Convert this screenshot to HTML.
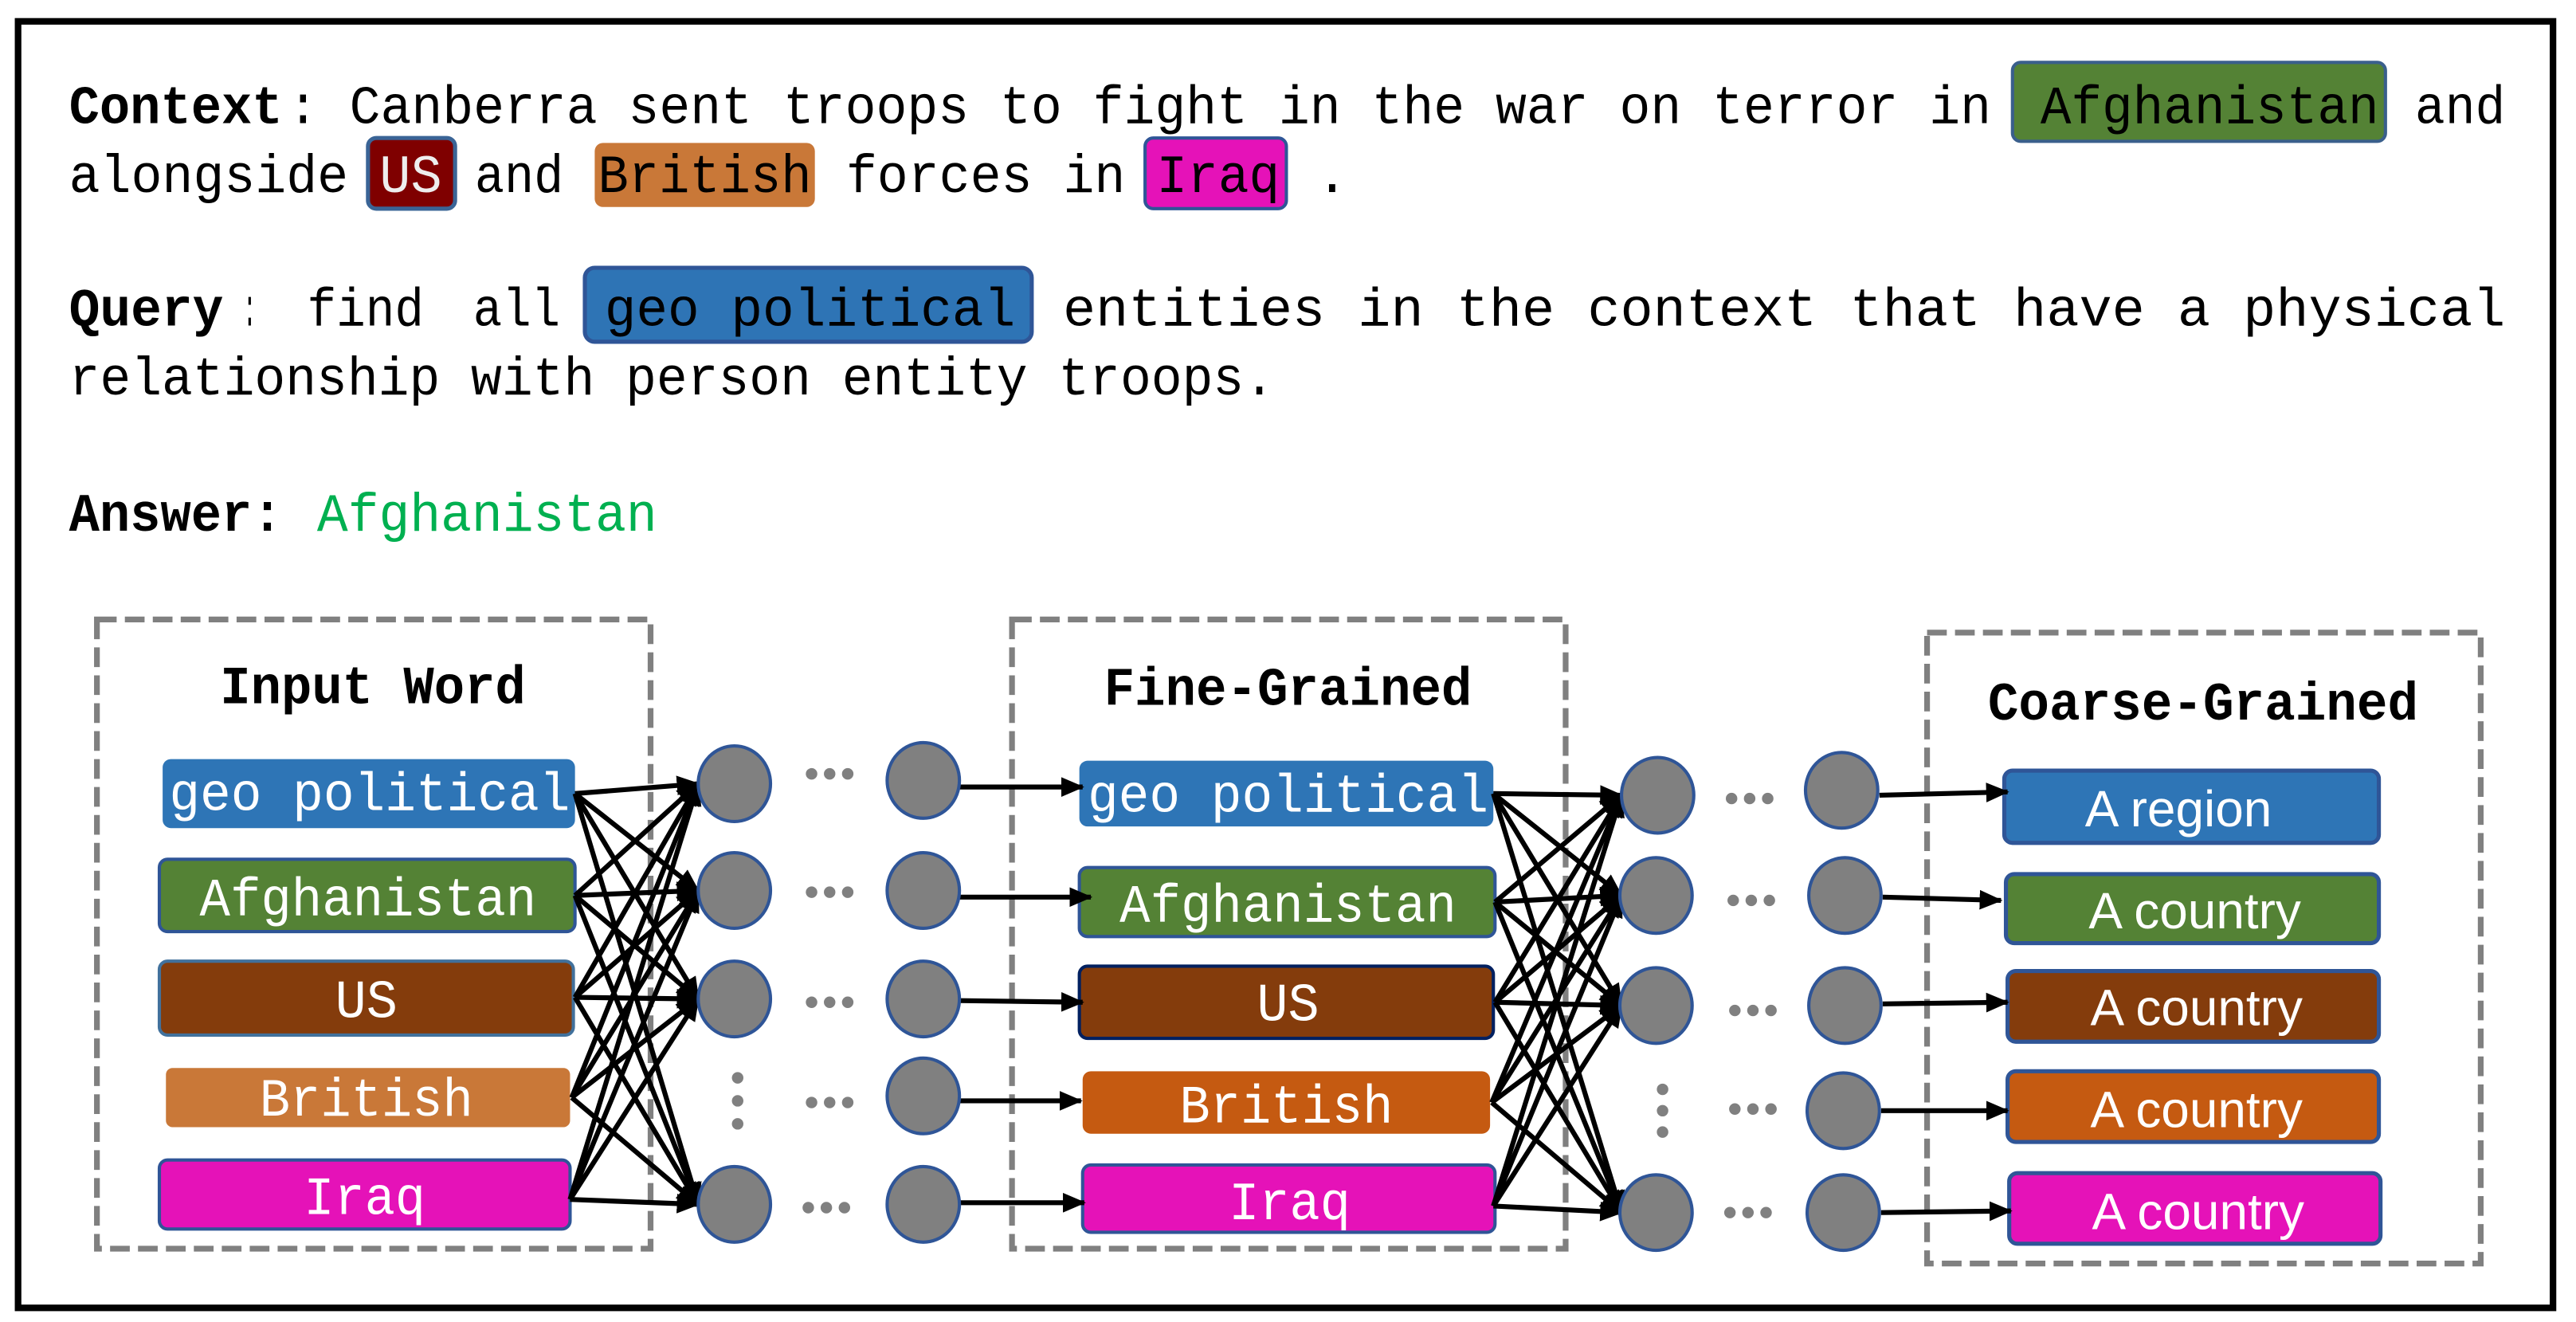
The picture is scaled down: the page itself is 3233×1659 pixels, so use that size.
<!DOCTYPE html>
<html><head><meta charset="utf-8"><style>
html,body{margin:0;padding:0;background:#fff;}
svg{display:block;}
.m{font-family:"Liberation Mono","DejaVu Sans Mono",monospace;font-size:33px;}
.b{font-weight:bold;}
.w{fill:#fff;}
.s{font-family:"Liberation Sans","DejaVu Sans",sans-serif;font-size:31px;fill:#fff;}
.fan line{stroke:#000;stroke-width:3;}
</style></head><body>
<svg width="3233" height="1659" viewBox="0 0 1568 804.6" preserveAspectRatio="none" xmlns="http://www.w3.org/2000/svg">
<defs>
<marker id="ah" markerUnits="userSpaceOnUse" markerWidth="14" markerHeight="12" refX="13" refY="6" orient="auto"><path d="M0,0 L14,6 L0,12 z" fill="#000"/></marker>
</defs>
<rect x="0" y="0" width="1568" height="805" fill="#fff"/>
<rect x="11" y="13" width="1543" height="783" fill="none" stroke="#000" stroke-width="4"/>

<!-- highlights -->
<rect x="1225" y="38" width="227" height="48" rx="5" fill="#548235" stroke="#3a5f8c" stroke-width="2"/>
<rect x="224" y="84" width="53" height="43" rx="5" fill="#7f0000" stroke="#3a6496" stroke-width="2.5"/>
<rect x="362" y="87" width="134" height="39" rx="5" fill="#c97838"/>
<rect x="697" y="84" width="86" height="43" rx="5" fill="#e512b8" stroke="#2f5597" stroke-width="2"/>
<rect x="356" y="163" width="272" height="45" rx="6" fill="#2e74b5" stroke="#2f5597" stroke-width="2.5"/>

<!-- text -->
<text class="m b" x="42" y="75" textLength="130" lengthAdjust="spacingAndGlyphs">Context</text>
<text class="m" x="175" y="75" textLength="1037" lengthAdjust="spacingAndGlyphs">: Canberra sent troops to fight in the war on terror in</text>
<text class="m" x="1242" y="75" textLength="206" lengthAdjust="spacingAndGlyphs">Afghanistan</text>
<text class="m" x="1470" y="75" textLength="55" lengthAdjust="spacingAndGlyphs">and</text>
<text class="m" x="42" y="117" textLength="170" lengthAdjust="spacingAndGlyphs">alongside</text>
<text class="m" x="231" y="117" textLength="38" lengthAdjust="spacingAndGlyphs" fill="#eee">US</text>
<text class="m" x="289" y="117" textLength="54" lengthAdjust="spacingAndGlyphs">and</text>
<text class="m" x="364" y="117" textLength="130" lengthAdjust="spacingAndGlyphs">British</text>
<text class="m" x="515" y="117" textLength="170" lengthAdjust="spacingAndGlyphs">forces in</text>
<text class="m" x="704" y="117" textLength="75" lengthAdjust="spacingAndGlyphs">Iraq</text>
<text class="m" x="801" y="117">.</text>

<text class="m b" x="42" y="198" textLength="94" lengthAdjust="spacingAndGlyphs">Query</text>
<text class="m" x="148" y="198" textLength="8" lengthAdjust="spacingAndGlyphs">:</text>
<text class="m" x="187" y="198" textLength="71" lengthAdjust="spacingAndGlyphs">find</text>
<text class="m" x="288" y="198" textLength="53" lengthAdjust="spacingAndGlyphs">all</text>
<text class="m" x="368" y="198" textLength="250" lengthAdjust="spacingAndGlyphs">geo political</text>
<text class="m" x="647" y="198" textLength="878" lengthAdjust="spacingAndGlyphs">entities in the context that have a physical</text>
<text class="m" x="42" y="240" textLength="734" lengthAdjust="spacingAndGlyphs">relationship with person entity troops.</text>

<text class="m b" x="42" y="323" textLength="130" lengthAdjust="spacingAndGlyphs">Answer:</text>
<text class="m" x="193" y="323" textLength="207" lengthAdjust="spacingAndGlyphs" fill="#00b050">Afghanistan</text>

<!-- dashed boxes -->
<g fill="none" stroke="#808080" stroke-width="3.5" stroke-dasharray="12,5">
<rect x="59" y="377" width="337" height="383"/>
<rect x="616" y="377" width="337" height="383"/>
<rect x="1173" y="385" width="337" height="384"/>
</g>
<text class="m b" x="227" y="428" text-anchor="middle" textLength="186" lengthAdjust="spacingAndGlyphs">Input Word</text>
<text class="m b" x="784" y="429" text-anchor="middle" textLength="224" lengthAdjust="spacingAndGlyphs">Fine-Grained</text>
<text class="m b" x="1341" y="438" text-anchor="middle" textLength="262" lengthAdjust="spacingAndGlyphs">Coarse-Grained</text>

<!-- col1 boxes -->
<rect x="99" y="462" width="251" height="42" rx="5" fill="#2e75b6"/>
<rect x="97" y="523" width="253" height="44" rx="5" fill="#548235" stroke="#2f5597" stroke-width="2"/>
<rect x="97" y="585" width="252" height="45" rx="5" fill="#843c0c" stroke="#41719c" stroke-width="2"/>
<rect x="101" y="650" width="246" height="36" rx="4" fill="#c97838"/>
<rect x="97" y="706" width="250" height="42" rx="5" fill="#e512b8" stroke="#2f5597" stroke-width="2"/>
<text class="m w" x="225" y="493" text-anchor="middle" textLength="244" lengthAdjust="spacingAndGlyphs">geo political</text>
<text class="m w" x="224" y="557" text-anchor="middle" textLength="205" lengthAdjust="spacingAndGlyphs">Afghanistan</text>
<text class="m w" x="223" y="619" text-anchor="middle" textLength="38" lengthAdjust="spacingAndGlyphs">US</text>
<text class="m w" x="223" y="679" text-anchor="middle" textLength="130" lengthAdjust="spacingAndGlyphs">British</text>
<text class="m w" x="222" y="739" text-anchor="middle" textLength="74" lengthAdjust="spacingAndGlyphs">Iraq</text>

<!-- col2 boxes -->
<rect x="657" y="463" width="252" height="40" rx="5" fill="#2e75b6"/>
<rect x="657" y="528" width="253" height="42" rx="5" fill="#548235" stroke="#2f5597" stroke-width="2"/>
<rect x="657" y="588" width="252" height="44" rx="5" fill="#843c0c" stroke="#002060" stroke-width="2"/>
<rect x="659" y="652" width="248" height="38" rx="5" fill="#c55a11"/>
<rect x="659" y="709" width="251" height="41" rx="5" fill="#e512b8" stroke="#2f5597" stroke-width="2"/>
<text class="m w" x="784" y="494" text-anchor="middle" textLength="244" lengthAdjust="spacingAndGlyphs">geo political</text>
<text class="m w" x="784" y="561" text-anchor="middle" textLength="205" lengthAdjust="spacingAndGlyphs">Afghanistan</text>
<text class="m w" x="784" y="621" text-anchor="middle" textLength="38" lengthAdjust="spacingAndGlyphs">US</text>
<text class="m w" x="783" y="683" text-anchor="middle" textLength="130" lengthAdjust="spacingAndGlyphs">British</text>
<text class="m w" x="785" y="742" text-anchor="middle" textLength="74" lengthAdjust="spacingAndGlyphs">Iraq</text>

<!-- col3 boxes -->
<g stroke="#2f5597" stroke-width="2.5">
<rect x="1220" y="469" width="228" height="44" rx="5" fill="#2e75b6"/>
<rect x="1221" y="532" width="227" height="42" rx="5" fill="#548235"/>
<rect x="1222" y="591" width="226" height="43" rx="5" fill="#843c0c"/>
<rect x="1222" y="652" width="226" height="43" rx="5" fill="#c55a11"/>
<rect x="1223" y="714" width="226" height="43" rx="5" fill="#e512b8"/>
</g>
<text class="s" x="1326" y="503" text-anchor="middle">A region</text>
<text class="s" x="1336" y="565" text-anchor="middle">A country</text>
<text class="s" x="1337" y="624" text-anchor="middle">A country</text>
<text class="s" x="1337" y="686" text-anchor="middle">A country</text>
<text class="s" x="1338" y="748" text-anchor="middle">A country</text>

<!-- fans -->
<g class="fan">
<line x1="350" y1="483" x2="425" y2="477" marker-end="url(#ah)"/>
<line x1="350" y1="483" x2="425" y2="542" marker-end="url(#ah)"/>
<line x1="350" y1="483" x2="425" y2="608" marker-end="url(#ah)"/>
<line x1="350" y1="483" x2="425" y2="733" marker-end="url(#ah)"/>
<line x1="350" y1="545" x2="425" y2="477" marker-end="url(#ah)"/>
<line x1="350" y1="545" x2="425" y2="542" marker-end="url(#ah)"/>
<line x1="350" y1="545" x2="425" y2="608" marker-end="url(#ah)"/>
<line x1="350" y1="545" x2="425" y2="733" marker-end="url(#ah)"/>
<line x1="350" y1="607" x2="425" y2="477" marker-end="url(#ah)"/>
<line x1="350" y1="607" x2="425" y2="542" marker-end="url(#ah)"/>
<line x1="350" y1="607" x2="425" y2="608" marker-end="url(#ah)"/>
<line x1="350" y1="607" x2="425" y2="733" marker-end="url(#ah)"/>
<line x1="348" y1="668" x2="425" y2="477" marker-end="url(#ah)"/>
<line x1="348" y1="668" x2="425" y2="542" marker-end="url(#ah)"/>
<line x1="348" y1="668" x2="425" y2="608" marker-end="url(#ah)"/>
<line x1="348" y1="668" x2="425" y2="733" marker-end="url(#ah)"/>
<line x1="347" y1="730" x2="425" y2="477" marker-end="url(#ah)"/>
<line x1="347" y1="730" x2="425" y2="542" marker-end="url(#ah)"/>
<line x1="347" y1="730" x2="425" y2="608" marker-end="url(#ah)"/>
<line x1="347" y1="730" x2="425" y2="733" marker-end="url(#ah)"/>

<line x1="909" y1="483" x2="987" y2="484" marker-end="url(#ah)"/>
<line x1="909" y1="483" x2="987" y2="545" marker-end="url(#ah)"/>
<line x1="909" y1="483" x2="987" y2="612" marker-end="url(#ah)"/>
<line x1="909" y1="483" x2="987" y2="738" marker-end="url(#ah)"/>
<line x1="910" y1="549" x2="987" y2="484" marker-end="url(#ah)"/>
<line x1="910" y1="549" x2="987" y2="545" marker-end="url(#ah)"/>
<line x1="910" y1="549" x2="987" y2="612" marker-end="url(#ah)"/>
<line x1="910" y1="549" x2="987" y2="738" marker-end="url(#ah)"/>
<line x1="910" y1="610" x2="987" y2="484" marker-end="url(#ah)"/>
<line x1="910" y1="610" x2="987" y2="545" marker-end="url(#ah)"/>
<line x1="910" y1="610" x2="987" y2="612" marker-end="url(#ah)"/>
<line x1="910" y1="610" x2="987" y2="738" marker-end="url(#ah)"/>
<line x1="908" y1="671" x2="987" y2="484" marker-end="url(#ah)"/>
<line x1="908" y1="671" x2="987" y2="545" marker-end="url(#ah)"/>
<line x1="908" y1="671" x2="987" y2="612" marker-end="url(#ah)"/>
<line x1="908" y1="671" x2="987" y2="738" marker-end="url(#ah)"/>
<line x1="909" y1="734" x2="987" y2="484" marker-end="url(#ah)"/>
<line x1="909" y1="734" x2="987" y2="545" marker-end="url(#ah)"/>
<line x1="909" y1="734" x2="987" y2="612" marker-end="url(#ah)"/>
<line x1="909" y1="734" x2="987" y2="738" marker-end="url(#ah)"/>
</g>

<!-- circle -> box arrows -->
<g stroke="#000" stroke-width="3">
<line x1="584" y1="479" x2="659" y2="479" marker-end="url(#ah)"/>
<line x1="584" y1="546" x2="664" y2="546" marker-end="url(#ah)"/>
<line x1="584" y1="609" x2="659" y2="610" marker-end="url(#ah)"/>
<line x1="584" y1="670" x2="658" y2="670" marker-end="url(#ah)"/>
<line x1="584" y1="732" x2="660" y2="732" marker-end="url(#ah)"/>
<line x1="1144" y1="484" x2="1222" y2="482" marker-end="url(#ah)"/>
<line x1="1146" y1="546" x2="1218" y2="548" marker-end="url(#ah)"/>
<line x1="1146" y1="611" x2="1222" y2="610" marker-end="url(#ah)"/>
<line x1="1145" y1="676" x2="1222" y2="676" marker-end="url(#ah)"/>
<line x1="1145" y1="738" x2="1224" y2="737" marker-end="url(#ah)"/>
</g>

<!-- circles -->
<g fill="#808080" stroke="#2f5597" stroke-width="2">
<ellipse cx="447" cy="477" rx="22" ry="23"/>
<ellipse cx="447" cy="542" rx="22" ry="23"/>
<ellipse cx="447" cy="608" rx="22" ry="23"/>
<ellipse cx="447" cy="733" rx="22" ry="23"/>
<ellipse cx="562" cy="475" rx="22" ry="23"/>
<ellipse cx="562" cy="542" rx="22" ry="23"/>
<ellipse cx="562" cy="608" rx="22" ry="23"/>
<ellipse cx="562" cy="667" rx="22" ry="23"/>
<ellipse cx="562" cy="733" rx="22" ry="23"/>
<ellipse cx="1009" cy="484" rx="22" ry="23"/>
<ellipse cx="1008" cy="545" rx="22" ry="23"/>
<ellipse cx="1008" cy="612" rx="22" ry="23"/>
<ellipse cx="1008" cy="738" rx="22" ry="23"/>
<ellipse cx="1121" cy="481" rx="22" ry="23"/>
<ellipse cx="1123" cy="545" rx="22" ry="23"/>
<ellipse cx="1123" cy="612" rx="22" ry="23"/>
<ellipse cx="1122" cy="676" rx="22" ry="23"/>
<ellipse cx="1122" cy="738" rx="22" ry="23"/>
</g>

<!-- dots -->
<g fill="#808080">
<circle cx="494" cy="471" r="3.5"/><circle cx="505" cy="471" r="3.5"/><circle cx="516" cy="471" r="3.5"/>
<circle cx="494" cy="543" r="3.5"/><circle cx="505" cy="543" r="3.5"/><circle cx="516" cy="543" r="3.5"/>
<circle cx="494" cy="610" r="3.5"/><circle cx="505" cy="610" r="3.5"/><circle cx="516" cy="610" r="3.5"/>
<circle cx="494" cy="671" r="3.5"/><circle cx="505" cy="671" r="3.5"/><circle cx="516" cy="671" r="3.5"/>
<circle cx="492" cy="735" r="3.5"/><circle cx="503" cy="735" r="3.5"/><circle cx="514" cy="735" r="3.5"/>
<circle cx="449" cy="656" r="3.5"/><circle cx="449" cy="670" r="3.5"/><circle cx="449" cy="684" r="3.5"/>
<circle cx="1054" cy="486" r="3.5"/><circle cx="1065" cy="486" r="3.5"/><circle cx="1076" cy="486" r="3.5"/>
<circle cx="1055" cy="548" r="3.5"/><circle cx="1066" cy="548" r="3.5"/><circle cx="1077" cy="548" r="3.5"/>
<circle cx="1056" cy="615" r="3.5"/><circle cx="1067" cy="615" r="3.5"/><circle cx="1078" cy="615" r="3.5"/>
<circle cx="1056" cy="675" r="3.5"/><circle cx="1067" cy="675" r="3.5"/><circle cx="1078" cy="675" r="3.5"/>
<circle cx="1053" cy="738" r="3.5"/><circle cx="1064" cy="738" r="3.5"/><circle cx="1075" cy="738" r="3.5"/>
<circle cx="1012" cy="663" r="3.5"/><circle cx="1012" cy="676" r="3.5"/><circle cx="1012" cy="689" r="3.5"/>
</g>
</svg>
</body></html>
